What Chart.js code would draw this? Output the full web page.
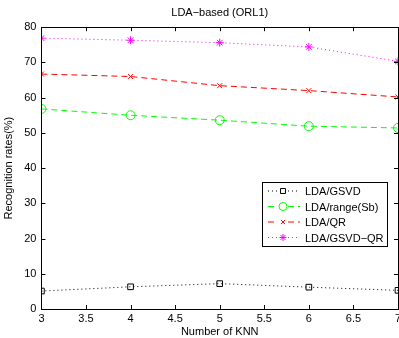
<!DOCTYPE html>
<html>
<head>
<meta charset="utf-8">
<script src="https://cdn.jsdelivr.net/npm/chart.js@4/dist/chart.umd.min.js"></script>
<style>
  html, body { margin: 0; padding: 0; background: #fff; overflow: hidden; }
  #wrap { width: 420px; height: 338px; }
</style>
</head>
<body>
<div id="wrap"><canvas id="myChart" width="420" height="338"></canvas></div>
<script>
const knn = [3, 4, 5, 6, 7];
const gsvd = [5.1, 6.3, 7.2, 6.2, 5.3];
const rangeSb = [56.8, 55.0, 53.6, 51.9, 51.4];
const qr = [66.7, 66.0, 63.4, 62.0, 60.2];
const gsvdQr = [76.9, 76.3, 75.6, 74.4, 70.3];
const seriesNames = ["LDA/GSVD", "LDA/range(Sb)", "LDA/QR", "LDA/GSVD\u2212QR"];

const font = "Liberation Sans, Arial, sans-serif";

const toPoints = vals => vals.map((v, i) => ({ x: knn[i], y: v }));

const boxAndTicks = {
  id: "boxAndTicks",
  afterDraw(chart) {
    const ctx = chart.ctx;
    const a = chart.chartArea;
    const xs = chart.scales.x, ys = chart.scales.y;
    ctx.save();
    ctx.strokeStyle = "#000";
    ctx.lineWidth = 1;
    ctx.strokeRect(Math.round(a.left) + 0.5, Math.round(a.top) + 0.5,
      Math.round(a.right - a.left), Math.round(a.bottom - a.top));
    ctx.beginPath();
    xs.ticks.forEach(t => {
      const px = Math.round(xs.getPixelForValue(t.value)) + 0.5;
      ctx.moveTo(px, a.bottom); ctx.lineTo(px, a.bottom - 4);
      ctx.moveTo(px, a.top); ctx.lineTo(px, a.top + 4);
    });
    ys.ticks.forEach(t => {
      const py = Math.round(ys.getPixelForValue(t.value)) + 0.5;
      ctx.moveTo(a.left, py); ctx.lineTo(a.left + 4, py);
      ctx.moveTo(a.right, py); ctx.lineTo(a.right - 4, py);
    });
    ctx.stroke();

    // legend box inside the axes
    const lx = 262, ly = 182, lw = 125, lh = 64;
    ctx.fillStyle = "#fff";
    ctx.fillRect(lx, ly, lw, lh);
    ctx.strokeRect(lx + 0.5, ly + 0.5, lw, lh);
    ctx.font = "11px " + font;
    ctx.textBaseline = "middle";
    chart.data.datasets.forEach((ds, i) => {
      const y = ly + 9 + i * 15.5;
      ctx.save();
      ctx.strokeStyle = ds.borderColor;
      ctx.setLineDash(ds.borderDash);
      ctx.beginPath();
      ctx.moveTo(268, y); ctx.lineTo(300, y);
      ctx.stroke();
      ctx.fillStyle = "#fff";
      ctx.fillRect(278, y - 4, 10, 8);
      ctx.setLineDash([]);
      ctx.strokeStyle = ds.pointBorderColor;
      ctx.fillStyle = "rgba(0,0,0,0)";
      ctx.lineWidth = 1;
      Chart.helpers.drawPoint(ctx, { pointStyle: ds.pointStyle, radius: ds.pointRadius - 0.5, borderWidth: 1 }, 283, y);
      ctx.restore();
      ctx.fillStyle = "#000";
      ctx.fillText(seriesNames[i], 305, y + 1);
    });
    ctx.restore();
  }
};

const mk = (label, vals, color, dash, style, r) => ({
  label: label,
  data: toPoints(vals),
  borderColor: color,
  backgroundColor: "rgba(0,0,0,0)",
  pointBorderColor: color,
  pointBackgroundColor: "rgba(0,0,0,0)",
  borderWidth: 1,
  borderDash: dash,
  pointStyle: style,
  pointRadius: r,
  pointBorderWidth: 1,
  tension: 0,
  fill: false
});

new Chart(document.getElementById("myChart"), {
  type: "line",
  data: {
    datasets: [
      mk(seriesNames[0], gsvd, "#000000", [1, 3], "rect", 4),
      mk(seriesNames[1], rangeSb, "#00ff00", [6, 4], "circle", 4.5),
      mk(seriesNames[2], qr, "#ff0000", [6, 4], "crossRot", 3.5),
      mk(seriesNames[3], gsvdQr, "#ff00ff", [1, 3], "star", 4)
    ]
  },
  options: {
    responsive: false,
    animation: false,
    layout: { padding: { left: 2, right: 22, top: 2, bottom: 0 } },
    plugins: {
      legend: { display: false },
      tooltip: { enabled: false },
      title: {
        display: true,
        fullSize: false,
        text: "LDA\u2212based (ORL1)",
        color: "#000",
        font: { family: font, size: 11, weight: "normal" },
        padding: { top: 4, bottom: 8 }
      }
    },
    scales: {
      x: {
        type: "linear",
        min: 3, max: 7,
        afterFit: s => { s.height = 29; },
        grid: { display: false, drawTicks: false },
        border: { display: false },
        ticks: { stepSize: 0.5, color: "#000", padding: 4, maxRotation: 0,
          callback: v => String(v),
          font: { family: font, size: 11, lineHeight: 1 } },
        title: { display: true, text: "Number of KNN", color: "#000", padding: { top: 2, bottom: 1 },
          font: { family: font, size: 11, lineHeight: 1 } }
      },
      y: {
        min: 0, max: 80,
        grid: { display: false, drawTicks: false },
        border: { display: false },
        ticks: { stepSize: 10, color: "#000", padding: 5,
          font: { family: font, size: 11 } },
        title: { display: true, text: "Recognition rates(%)", color: "#000", padding: { top: 0, bottom: 4 },
          font: { family: font, size: 11 } }
      }
    }
  },
  plugins: [boxAndTicks]
});
</script>
</body>
</html>
